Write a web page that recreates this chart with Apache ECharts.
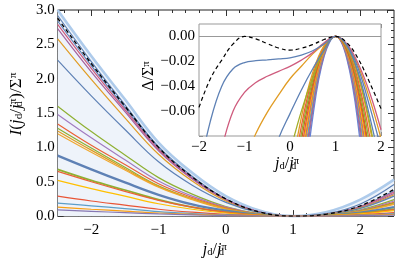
<!DOCTYPE html>
<html><head><meta charset="utf-8">
<script src="https://cdn.jsdelivr.net/npm/echarts@6/dist/echarts.min.js"></script>
<style>html,body{margin:0;padding:0;background:#fff}#c{width:399px;height:263px}</style>
</head><body><div id="c"></div>
<script>
// ---------- main plot data ----------
const mainX = [-2.5, -2, -1.5, -1, -0.5, 0, 0.5, 1, 1.5, 2, 2.5];
const mainXTicks = [-2, -1, 0, 1, 2];
const bandTop   = [3.00, 2.33, 1.70, 1.07, 0.63, 0.29, 0.08, 0, 0.06, 0.24, 0.53];
const mainDashed= [2.88, 2.22, 1.60, 1.00, 0.57, 0.25, 0.06, 0, 0.030, 0.150, 0.39];
const m01 = [2.92, 2.25, 1.62, 1.01, 0.58, 0.25, 0.06, 0, 0.035, 0.177, 0.46];
const m02 = [2.84, 2.19, 1.58, 0.99, 0.56, 0.25, 0.06, 0, 0.028, 0.142, 0.37];
const m03 = [2.79, 2.15, 1.55, 0.97, 0.55, 0.24, 0.06, 0, 0.027, 0.135, 0.35];
const m04 = [2.73, 2.10, 1.52, 0.95, 0.54, 0.24, 0.06, 0, 0.025, 0.127, 0.33];
const m05 = [2.58, 1.99, 1.43, 0.90, 0.51, 0.22, 0.05, 0, 0.024, 0.119, 0.31];
const m06 = [2.27, 1.75, 1.26, 0.79, 0.45, 0.20, 0.05, 0, 0.022, 0.112, 0.29];
const m07 = [1.60, 1.23, 0.89, 0.56, 0.32, 0.14, 0.034, 0, 0.018, 0.092, 0.24];
const m08 = [1.48, 1.14, 0.82, 0.51, 0.29, 0.13, 0.031, 0, 0.017, 0.085, 0.22];
const m09 = [1.34, 1.03, 0.75, 0.47, 0.27, 0.12, 0.028, 0, 0.015, 0.077, 0.20];
const m10 = [1.28, 0.99, 0.71, 0.44, 0.25, 0.11, 0.027, 0, 0.015, 0.073, 0.19];
const m11 = [1.24, 0.96, 0.69, 0.43, 0.25, 0.11, 0.026, 0, 0.014, 0.069, 0.18];
const m12 = [1.20, 0.93, 0.67, 0.42, 0.24, 0.10, 0.025, 0, 0.013, 0.065, 0.17];
const m13 = [0.88, 0.68, 0.49, 0.31, 0.17, 0.077, 0.018, 0, 0.010, 0.050, 0.13];
const m14 = [0.68, 0.52, 0.38, 0.24, 0.13, 0.059, 0.014, 0, 0.008, 0.039, 0.10];
const m15 = [0.65, 0.50, 0.36, 0.23, 0.13, 0.057, 0.014, 0, 0.007, 0.037, 0.095];
const m16 = [0.52, 0.40, 0.29, 0.18, 0.10, 0.045, 0.011, 0, 0.006, 0.031, 0.08];
const m17 = [0.29, 0.22, 0.16, 0.10, 0.057, 0.025, 0.006, 0, 0.004, 0.019, 0.05];
const m18 = [0.19, 0.15, 0.11, 0.066, 0.038, 0.017, 0.004, 0, 0.003, 0.013, 0.035];
const m19 = [0.13, 0.10, 0.072, 0.045, 0.026, 0.011, 0.003, 0, 0.002, 0.010, 0.025];
const m20 = [0.09, 0.069, 0.050, 0.031, 0.018, 0.008, 0.002, 0, 0.001, 0.006, 0.015];
const mainCurves = [m01,m02,m03,m04,m05,m06,m07,m08,m09,m10,m11,m12,m13,m14,m15,m16,m17,m18,m19,m20];
const mainColors = ['#5E81B5','#5E81B5','#CF5C7E','#A5609D','#E19C24','#5E81B5','#8FB032','#A27CC0','#EB6235','#8FB032',
                    '#E19C24','#F0A830','#5E81B5','#8FB032','#EB6235','#FFBF00','#E95536','#5D9EC7','#F89F13','#8778B3'];
const mainWidths = [1.2,1.2,1.2,1.2,1.2,1.2,1.2,1.2,1.2,1.2,1.2,1.2,2.4,1.8,1.2,1.2,1.2,1.2,1.2,1.2];

// ---------- inset data ----------
const insetX = [-2,-1.75,-1.5,-1.25,-1,-0.75,-0.5,-0.25,0,0.25,0.5,0.75,1,1.25,1.5,1.75,2];
const insetDashed = [-0.057,-0.034,-0.019,-0.006,0,-0.002,-0.0057,-0.0093,-0.011,-0.0095,-0.0065,-0.0025,0,-0.005,-0.018,-0.037,-0.058];
const n01 = [-0.11,-0.068,-0.04,-0.026,-0.021,-0.0195,-0.0188,-0.018,-0.0172,-0.015,-0.0115,-0.006,0,-0.007,-0.026,-0.056,-0.09];
const n02 = [-0.18,-0.13,-0.09,-0.06,-0.045,-0.037,-0.032,-0.028,-0.024,-0.019,-0.013,-0.005,0,-0.006,-0.022,-0.045,-0.075];
const n03 = [-0.3,-0.24,-0.18,-0.13,-0.1,-0.078,-0.061,-0.047,-0.034,-0.024,-0.014,-0.006,0,-0.0065,-0.024,-0.05,-0.082];
const n04 = [-0.4,-0.34,-0.28,-0.23,-0.18,-0.14,-0.11,-0.082,-0.062,-0.043,-0.026,-0.011,0,-0.0075,-0.029,-0.064,-0.105];
const n05 = [-0.6,-0.5,-0.42,-0.35,-0.28,-0.22,-0.17,-0.13,-0.093,-0.06,-0.033,-0.011,0,-0.008,-0.031,-0.069,-0.12];
const N = null;
const n06 = [N,N,N,N,N,N,N,-0.181,-0.116,-0.065,-0.029,-0.0073,0,-0.008,-0.032,-0.072,-0.128];
const n07 = [N,N,N,N,N,N,N,-0.200,-0.128,-0.072,-0.032,-0.0080,0,-0.0089,-0.036,-0.080,-0.142];
const n08 = [N,N,N,N,N,N,N,-0.217,-0.139,-0.078,-0.035,-0.0087,0,-0.0097,-0.039,-0.087,-0.155];
const n09 = [N,N,N,N,N,N,N,-0.234,-0.150,-0.084,-0.038,-0.0094,0,-0.0106,-0.042,-0.095,-0.169];
const n10 = [N,N,N,N,N,N,N,-0.256,-0.164,-0.092,-0.041,-0.0103,0,-0.0112,-0.045,-0.100,-0.179];
const n11 = [N,N,N,N,N,N,N,-0.272,-0.174,-0.098,-0.044,-0.0109,0,-0.0119,-0.048,-0.107,-0.190];
const n12 = [N,N,N,N,N,N,N,-0.289,-0.185,-0.104,-0.046,-0.0116,0,-0.0127,-0.051,-0.114,-0.203];
const n13 = [N,N,N,N,N,N,N,-0.306,-0.196,-0.110,-0.049,-0.0123,0,-0.0136,-0.054,-0.122,-0.217];
const n14 = [N,N,N,N,N,N,N,-0.328,-0.210,-0.118,-0.053,-0.0131,0,-0.0145,-0.058,-0.130,-0.232];
const n15 = [N,N,N,N,N,N,N,-0.350,-0.224,-0.126,-0.056,-0.0140,0,-0.0156,-0.062,-0.140,-0.249];
const n16 = [N,N,N,N,N,N,N,-0.375,-0.240,-0.135,-0.060,-0.0150,0,-0.0167,-0.067,-0.150,-0.267];
const n17 = [N,N,N,N,N,N,N,-0.403,-0.258,-0.145,-0.065,-0.0160,0,-0.0180,-0.072,-0.163,-0.289];
const insetCurves = [n01,n02,n03,n04,n05,n06,n07,n08,n09,n10,n11,n12,n13,n14,n15,n16,n17];
const insetColors = ['#5E81B5','#CF5C7E','#E19C24','#5E81B5','#A3AE2A',
  '#E19C24','#EB6235','#8FB032','#C56E1A','#E95536','#FFBF00','#A5609D','#F89F13','#5D9EC7','#BC5B80','#8778B3','#6685D9'];

// ---------- helpers ----------
const FF = 'Liberation Serif';
const pairs = (xs, ys) => xs.map((x, i) => [x, ys[i]]);
const minus = s => String(s).replace('-', '\u2212');
const mainXMinor = [];
for (let k = -12; k <= 12; k++) { if (k % 5 !== 0) mainXMinor.push(k / 5); }

const rich = (fs) => ({
  i: {fontFamily: FF, fontStyle: 'italic', fontSize: fs, color: '#000'},
  r: {fontFamily: FF, fontSize: fs, color: '#000'},
  b: {fontFamily: FF, fontSize: fs * 0.66, color: '#000', verticalAlign: 'bottom', lineHeight: fs * 0.7},
  z: {fontFamily: FF, fontSize: fs * 0.66, color: '#000', verticalAlign: 'bottom', lineHeight: fs * 0.7, width: 0},
  p: {fontFamily: FF, fontSize: fs * 0.66, color: '#000', verticalAlign: 'top', lineHeight: fs * 0.7}
});
const jLabel = '{i|j}{b|d}{r|/}{i|j}{z|d}{p|π}';
const noLine = {show: false, onZero: false};

const xAxes = [
  {type:'value', gridIndex:0, min:-2.5, max:2.5, position:'bottom', axisLine:noLine, splitLine:{show:false},
   axisTick:{show:true, inside:true, length:6, customValues: mainXTicks, lineStyle:{color:'#333'}},
   axisLabel:{customValues: mainXTicks, formatter: v => minus(v), fontFamily:FF, fontSize:15, color:'#000', margin:6},
   name: jLabel, nameLocation:'middle', nameGap:20, nameTextStyle:{rich: rich(16), padding:[0,22,0,0]}},
  {type:'value', gridIndex:0, min:-2.5, max:2.5, position:'bottom', axisLine:noLine, splitLine:{show:false},
   axisTick:{show:true, inside:true, length:3, customValues: mainXMinor, lineStyle:{color:'#333'}}, axisLabel:{show:false}},
  {type:'value', gridIndex:0, min:-2.5, max:2.5, position:'top', axisLine:noLine, splitLine:{show:false},
   axisTick:{show:true, inside:true, length:6, customValues: mainXTicks, lineStyle:{color:'#333'}}, axisLabel:{show:false}},
  {type:'value', gridIndex:0, min:-2.5, max:2.5, position:'top', axisLine:noLine, splitLine:{show:false},
   axisTick:{show:true, inside:true, length:3, customValues: mainXMinor, lineStyle:{color:'#333'}}, axisLabel:{show:false}},
  {type:'value', gridIndex:1, min:-2, max:2, interval:1, position:'bottom', axisLine:noLine, splitLine:{show:false},
   axisTick:{show:true, inside:true, length:4, lineStyle:{color:'#888'}},
   minorTick:{show:true, splitNumber:5, length:2, lineStyle:{color:'#888'}},
   axisLabel:{formatter: v => minus(v), fontFamily:FF, fontSize:15, color:'#000', margin:4},
   name: jLabel, nameLocation:'middle', nameGap:20, nameTextStyle:{rich: rich(16), padding:[0,6,0,0]}},
  {type:'value', gridIndex:1, min:-2, max:2, interval:1, position:'top', axisLine:noLine, splitLine:{show:false},
   axisTick:{show:true, inside:true, length:4, lineStyle:{color:'#888'}},
   minorTick:{show:true, splitNumber:5, length:2, lineStyle:{color:'#888'}}, axisLabel:{show:false}}
];
const yAxes = [
  {type:'value', gridIndex:0, min:0, max:3, interval:0.5, position:'left', axisLine:noLine, splitLine:{show:false},
   axisTick:{show:true, inside:true, length:6, lineStyle:{color:'#333'}},
   minorTick:{show:true, splitNumber:5, length:3, lineStyle:{color:'#333'}},
   axisLabel:{formatter: v => v.toFixed(1), fontFamily:FF, fontSize:15, color:'#000', margin:3},
   name: '{i|I}{r|(}' + jLabel + '{r|)/Σ}{p|π}', nameLocation:'middle', nameGap:25,
   nameTextStyle:{rich: rich(17), padding:[0,0,0,18]}},
  {type:'value', gridIndex:0, min:0, max:3, interval:0.5, position:'right', axisLine:noLine, splitLine:{show:false},
   axisTick:{show:true, inside:true, length:6, lineStyle:{color:'#333'}},
   minorTick:{show:true, splitNumber:5, length:3, lineStyle:{color:'#333'}}, axisLabel:{show:false}},
  {type:'value', gridIndex:1, min:-0.08, max:0.01, interval:0.02, position:'left', axisLine:noLine, splitLine:{show:false},
   axisTick:{show:true, inside:true, length:4, lineStyle:{color:'#888'}},
   minorTick:{show:true, splitNumber:4, length:2, lineStyle:{color:'#888'}},
   axisLabel:{showMinLabel:false, showMaxLabel:false, fontFamily:FF, fontSize:15, color:'#000', margin:4,
     formatter: v => { if (Math.abs(v) < 1e-9) v = 0; return minus(v.toFixed(2)); }},
   name: '{r|Δ/Σ}{p|π}', nameLocation:'middle', nameGap:31, nameTextStyle:{rich: rich(16), padding:[0,0,0,8]}},
  {type:'value', gridIndex:1, min:-0.08, max:0.01, interval:0.02, position:'right', axisLine:noLine, splitLine:{show:false},
   axisTick:{show:true, inside:true, length:4, lineStyle:{color:'#888'}},
   minorTick:{show:true, splitNumber:4, length:2, lineStyle:{color:'#888'}}, axisLabel:{show:false}}
];

const series = [];
series.push({type:'line', xAxisIndex:0, yAxisIndex:0, data: pairs(mainX, bandTop), smooth:0.4, symbol:'none',
  lineStyle:{color:'#AECBEB', width:2.6}, areaStyle:{color:'#EEF3FA', opacity:1}, z:1});
mainCurves.forEach((c, k) => series.push({type:'line', xAxisIndex:0, yAxisIndex:0, data: pairs(mainX, c), smooth:0.4,
  symbol:'none', lineStyle:{color: mainColors[k], width: mainWidths[k]}, z:2}));
series.push({type:'line', xAxisIndex:0, yAxisIndex:0, data: pairs(mainX, mainDashed), smooth:0.4, symbol:'none',
  lineStyle:{color:'#000', width:1.3, type:[4,3]}, z:3});

insetCurves.slice().reverse().forEach((c, kk) => {
  const k = insetCurves.length - 1 - kk;
  series.push({type:'line', xAxisIndex:4, yAxisIndex:2, data: pairs(insetX, c), smooth:0.4, symbol:'none',
    connectNulls:false, lineStyle:{color: insetColors[k], width:1.3}, z:4});
});
series.push({type:'line', xAxisIndex:4, yAxisIndex:2, data: pairs(insetX, insetDashed), smooth:0.4, symbol:'none',
  lineStyle:{color:'#000', width:1.2, type:[4,3]}, z:5,
  markLine:{silent:true, symbol:'none', label:{show:false}, z:3, animation:false,
    lineStyle:{color:'#999', type:'solid', width:1}, data:[{yAxis:0}]}});

const chart = echarts.init(document.getElementById('c'), null, {renderer:'canvas'});
chart.setOption({
  animation:false,
  backgroundColor:'#fff',
  grid:[
    {left:44, top:10, width:350, height:214, show:true, borderColor:'#222', borderWidth:1, backgroundColor:'transparent'},
    {left:199, top:24, width:182, height:112, show:true, borderColor:'#999', borderWidth:1, backgroundColor:'#fff', z:3}
  ],
  xAxis: xAxes,
  yAxis: yAxes,
  series: series
});
</script></body></html>
